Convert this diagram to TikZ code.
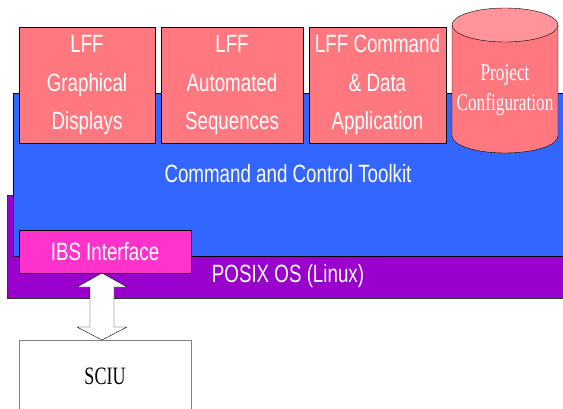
\documentclass[tikz,border=0pt]{standalone}
\usepackage{fontspec}
\newfontfamily\narrowsans{Liberation Sans}[FakeStretch=0.75]
\newfontfamily\narrowserif{Liberation Serif}[FakeStretch=0.72]
\definecolor{boxpink}{RGB}{255,120,128}
\definecolor{cyltop}{RGB}{255,148,154}
\definecolor{toolblue}{RGB}{51,102,255}
\definecolor{osviolet}{RGB}{153,0,204}
\definecolor{ibsmagenta}{RGB}{255,51,204}
\tikzset{
  appbox/.style={draw=black, fill=boxpink, text=white, align=center,
    minimum width=136pt, minimum height=116pt, inner sep=0pt,
    font=\narrowsans\fontsize{25}{38.5}\selectfont},
  layertext/.style={text=white, font=\narrowsans\fontsize{25}{30}\selectfont},
}
\begin{document}
\begin{tikzpicture}[x=1pt,y=1pt]
        \useasboundingbox (0,0) rectangle (563,408);
        \fill[white] (0,0) rectangle (563,408);

        % layers
        \filldraw[fill=osviolet, draw=black!80] (7,110) rectangle (575,213);
        \filldraw[fill=toolblue, draw=black] (13,152) rectangle (575,315);
        \node[layertext] (toolkit) at (288,234) {Command and Control Toolkit};
        \node[layertext] (posix) at (288,132) {POSIX OS (Linux)};

        % applications
        \node[appbox] (graph) at (87,323) {LFF\\Graphical\\Displays};
        \node[appbox, minimum width=142pt] (auto) at (232,323) {LFF\\Automated\\Sequences};
        \node[appbox, minimum width=137pt] (cmd) at (377.5,323) {LFF Command\\\& Data\\Application};

        % project configuration store
        \filldraw[fill=boxpink, draw=black] (452,383) -- (452,272) arc (180:360:53 and 17) -- (558,383);
        \filldraw[fill=cyltop, draw=black] (505,383) ellipse (53 and 17);
        \node[align=center, text=white, font=\narrowserif\fontsize{24}{30}\selectfont] (config) at (505,318) {Project\\Configuration};

        % interface and SCIU
        \node[draw=black, fill=ibsmagenta, text=white, minimum width=172pt, minimum height=43pt,
          inner sep=0pt, font=\narrowsans\fontsize{25}{30}\selectfont] (ibs) at (105,156.5) {IBS Interface};
        \node[draw=black!50, fill=white, minimum width=172pt, minimum height=78pt, inner sep=0pt,
          font=\narrowserif\fontsize{25}{30}\selectfont] (sciu) at (105,29) {};
        \node[font=\narrowserif\fontsize{25}{30}\selectfont] (sciulabel) at (105,32) {SCIU};

        \filldraw[fill=white, draw=black, line join=miter]
          (102,135) -- (127,121) -- (114,121) -- (114,81) -- (127,81) -- (102,68)
          -- (77,81) -- (90,81) -- (90,121) -- (77,121) -- cycle;
      \end{tikzpicture}
\end{document}
